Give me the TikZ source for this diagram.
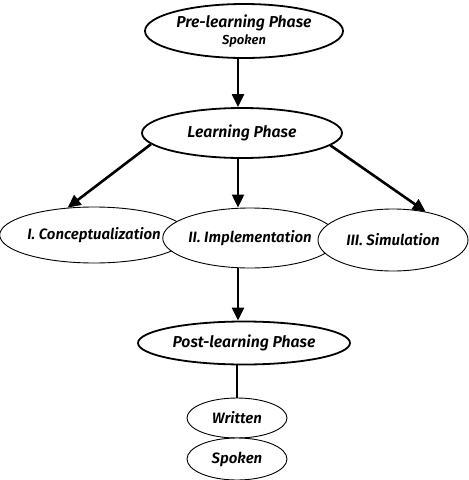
\documentclass[tikz,border=0pt]{standalone}
\usepackage{fontspec}
\setmainfont{Fira Sans}[BoldItalicFont={Fira Sans SemiBold Italic}]
\usetikzlibrary{shapes.geometric,arrows.meta}
\tikzset{
  phase/.style={ellipse, draw, line width=1.8pt, fill=white, inner sep=0pt, align=center, font=\fontsize{15.8}{17}\selectfont\bfseries\itshape},
  sub/.style={ellipse, draw, line width=0.9pt, fill=white, inner sep=0pt, align=center, font=\fontsize{15}{17}\selectfont\bfseries\itshape},
  arr/.style={line width=2.2pt, -{Triangle[length=13pt,width=12pt]}},
  link/.style={line width=1.2pt}
}
\begin{document}
\begin{tikzpicture}[x=1pt,y=-1pt]
\useasboundingbox (0,0) rectangle (469,480);
\coordinate (axis) at (238,0);
\node[phase, minimum width=198pt, minimum height=54pt] (pre) at (244,31)
  {Pre-learning Phase\\[0pt]{\fontsize{13}{14}\selectfont\bfseries\itshape Spoken}};
\node[phase, minimum width=200pt, minimum height=50pt] (learn) at (242,133) {Learning Phase};
\node[sub, minimum width=172pt, minimum height=56pt] (concept) at (94,235) {I. Conceptualization};
\node[sub, minimum width=152pt, minimum height=60pt] (impl) at (250,238) {II. Implementation};
\node[sub, minimum width=150pt, minimum height=62pt] (sim) at (393,240) {III. Simulation};
\node[phase, minimum width=212pt, minimum height=43pt] (post) at (244,343) {Post-learning Phase};
\node[sub, minimum width=100pt, minimum height=40pt] (written) at (237,418) {Written};
\node[sub, minimum width=100pt, minimum height=42pt] (spoken) at (237,459) {Spoken};
\draw[arr] (axis |- pre.south) -- (axis |- learn.north);
\draw[arr, line width=2.6pt] (learn.187) -- (concept.134);
\draw[arr] (axis |- learn.south) -- (axis |- impl.north);
\draw[arr, line width=2.6pt] (learn.352) -- (sim.41);
\draw[arr] (axis |- impl.south) -- (axis |- post.north);
\draw[link] (written.north |- post.south) -- (written.north);
\end{tikzpicture}
\end{document}
